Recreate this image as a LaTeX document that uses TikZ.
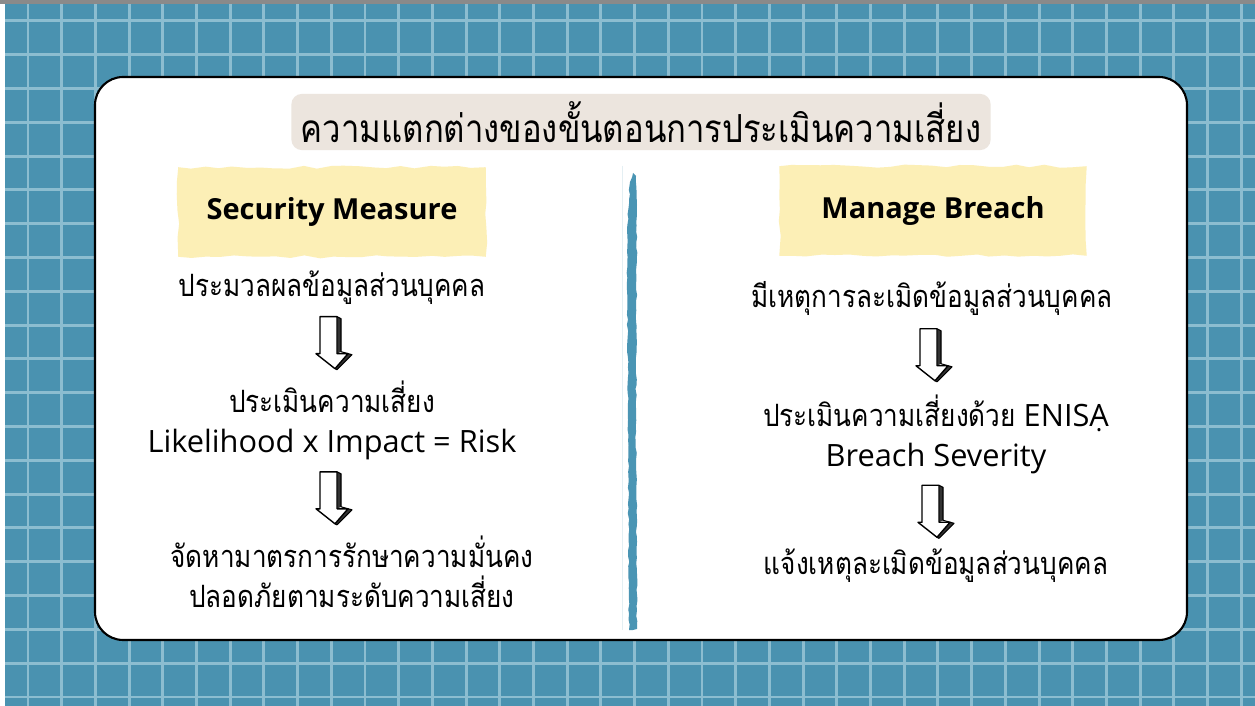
\documentclass[tikz,border=0pt]{standalone}
\usepackage{fontspec}
\setmainfont{Open Sans}
\newfontfamily\thaifont[Script=Thai, FakeStretch=0.85]{Loma}
\usetikzlibrary{calc,decorations.pathmorphing}
\definecolor{Board}{HTML}{4A92B0}
\definecolor{GridLine}{HTML}{8CBDD0}
\definecolor{TopBar}{HTML}{8A8A8A}
\definecolor{TitleFill}{HTML}{ECE5DE}
\definecolor{Note}{HTML}{FCEFB6}
\definecolor{Stroke}{HTML}{4A95B4}
\tikzset{
 gridline/.style={draw=GridLine, line width=1.7pt},
 card/.style={draw=black, line width=1.2pt, fill=white, rounded corners=16pt},
 heading/.style={fill=Note, minimum width=175pt, minimum height=51pt, inner sep=0pt, font=\fontsize{16.5}{19}\selectfont\bfseries, decorate, decoration={random steps, segment length=8pt, amplitude=0.9pt}},
 steptext/.style={align=center, inner sep=0pt, font=\fontsize{17.5}{22.7}\selectfont},
 downarrow/.pic={
  \fill[black!80] (3,26) -- (7,24) -- (7,-9) -- (3,-11) -- cycle;
  \fill[black!80] (14,-11) -- (18,-12) -- (3,-27) -- (1,-26) -- cycle;
  \draw[line width=0.8pt, line join=round, fill=white] (-14,26) -- (3,26) -- (3,-11) -- (14,-11) -- (1,-26) -- (-18,-11) -- (-14,-11) -- cycle;
  \draw[line width=0.6pt, line join=round] (3,26) -- (7,24) -- (7,-9) -- (18,-12) -- (3,-27) -- (1,-26);
 }
}
\newcommand\thai[1]{{\thaifont #1}}

\begin{document}
\begin{tikzpicture}[x=0.02cm,y=0.02cm]
\useasboundingbox (0,0) rectangle (1255,706);
% board with grid
\fill[white] (0,0) rectangle (1255,706);
\fill[Board] (5,0) rectangle (1255,702);
\fill[TopBar] (0,702) rectangle (1255,706);
\begin{scope}
\clip (5,0) rectangle (1255,702);
\foreach \gx in {28,61.7,...,1255} \draw[gridline] (\gx,0) -- (\gx,702);
\foreach \gy in {685,651.2,...,0} \draw[gridline] (5,\gy) -- (1255,\gy);
\end{scope}
\draw[card] (95,66) rectangle (1187,629);

% title
\node[fill=TitleFill, rounded corners=6pt, minimum width=398pt, minimum height=32pt, font=\fontsize{22}{26}\selectfont] (title) at (641,584) {\thai{ความแตกต่างของขั้นตอนการประเมินความเสี่ยง}};

% divider stroke
\draw[draw=Board!15, line width=0.5pt] (622,540) -- (622,76);
\fill[Stroke, decorate, decoration={random steps, segment length=3pt, amplitude=0.4pt}]
 (633,533) -- (636,530) -- (637,501) -- (636,306) -- (637,77) -- (629,76) -- (628,286) -- (627,476) -- (629,506) -- (630,524) -- cycle;

% security measure column
\node[heading] (secHead) at (332,494) {Security Measure};
\node[steptext] (s1) at (332,418) {\thai{ประมวลผลข้อมูลส่วนบุคคล}};
\node[steptext] (s2) at (332,286) {\thai{ประเมินความเสี่ยง}\\Likelihood x Impact = Risk};
\node[steptext] (s3) at (352,134) {\thai{จัดหามาตรการรักษาความมั่นคง}\\\thai{ปลอดภัยตามระดับความเสี่ยง}};
\pic at ($(s1.south)!0.5!(s2.north)+(2,0)$) {downarrow};
\pic at ($(s2.south)!0.5!(s3.north)+(-8,0)$) {downarrow};

% manage breach column
\node[heading] (brHead) at (933,495) {Manage Breach};
\node[steptext] (b1) at (932,408) {\thai{มีเหตุการละเมิดข้อมูลส่วนบุคคล}};
\node[steptext] (b2) at (936,272) {\thai{ประเมินความเสี่ยงด้วย} ENISẠ\\Breach Severity};
\node[steptext] (b3) at (936,140) {\thai{แจ้งเหตุละเมิดข้อมูลส่วนบุคคล}};
\pic at ($(b1.south)!0.5!(b2.north)$) {downarrow};
\pic at ($(b2.south)!0.5!(b3.north)$) {downarrow};
\end{tikzpicture}
\end{document}
